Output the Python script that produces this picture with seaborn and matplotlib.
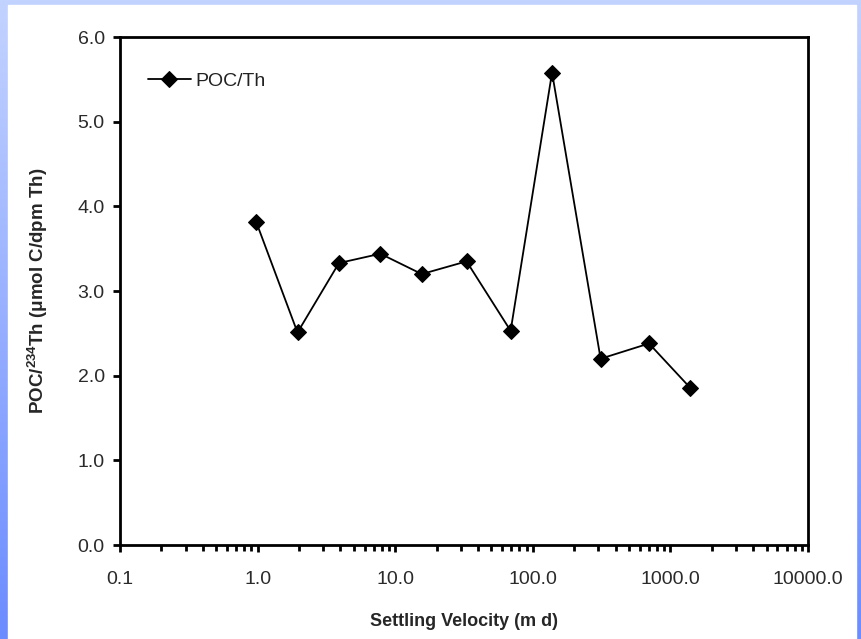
import numpy as np
import pandas as pd
import matplotlib
matplotlib.use("Agg")
import matplotlib.pyplot as plt
import seaborn as sns
from matplotlib.colors import LinearSegmentedColormap
from matplotlib.patches import Rectangle

velocity = [0.98, 1.95, 3.9, 7.8, 15.6, 33.0, 69.0, 138.0, 311.0, 699.0, 1387.0]
poc_th = [3.81, 2.51, 3.33, 3.44, 3.20, 3.35, 2.53, 5.58, 2.20, 2.38, 1.86]
series_name = "POC/Th"
y_ticks = [0.0, 1.0, 2.0, 3.0, 4.0, 5.0, 6.0]
x_ticks = [0.1, 1.0, 10.0, 100.0, 1000.0, 10000.0]

df = pd.DataFrame({"v": velocity, "r": poc_th, "s": series_name})

sns.set_theme(style="ticks")
plt.rcParams["font.family"] = ["Liberation Sans", "DejaVu Sans"]
plt.rcParams["mathtext.fontset"] = "custom"
plt.rcParams["mathtext.rm"] = "Liberation Sans:bold"
plt.rcParams["mathtext.it"] = "Liberation Sans:bold"
plt.rcParams["mathtext.bf"] = "Liberation Sans:bold"

W, H = 861, 639
fig = plt.figure(figsize=(W / 100, H / 100), dpi=100)

# background gradient frame
bg = fig.add_axes([0, 0, 1, 1], zorder=-10)
cmap = LinearSegmentedColormap.from_list("bl", ["#c3d3ff", "#6b8cff"])
grad = np.linspace(0, 1, 256).reshape(-1, 1)
bg.imshow(grad, aspect="auto", cmap=cmap, extent=[0, 1, 0, 1], origin="upper")
bg.add_patch(Rectangle((8 / W, 0), (856 - 8) / W, (H - 5) / H, color="white", transform=bg.transAxes))
bg.set_axis_off()

ax = fig.add_axes([120 / W, (H - 545) / H, (808 - 120) / W, (545 - 37) / H])
ax.set_facecolor("white")
sns.lineplot(data=df, x="v", y="r", hue="s", palette=["black"], marker="D",
             markersize=8.5, linewidth=1.3, markeredgecolor="black", ax=ax)
ax.set_xscale("log")
ax.set_xlim(0.1, 10000)
ax.set_ylim(0, 6)
ax.set_xticks(x_ticks)
ax.set_xticklabels([f"{t:.1f}" for t in x_ticks])
ax.set_yticks(y_ticks)
ax.set_yticklabels([f"{t:.1f}" for t in y_ticks])
ax.xaxis.set_minor_locator(matplotlib.ticker.LogLocator(base=10, subs=np.arange(2, 10)))
ax.xaxis.set_minor_formatter(matplotlib.ticker.NullFormatter())

for sp in ax.spines.values():
    sp.set_visible(True)
    sp.set_color("black")
    sp.set_linewidth(2.0)

ax.tick_params(axis="both", which="major", direction="out", length=5, width=2,
               color="black", labelsize=14, labelcolor="#2a2a2a", pad=6)
ax.tick_params(axis="x", which="minor", direction="out", length=4, width=2, color="black")
ax.tick_params(axis="x", which="major", pad=14)

ax.set_xlabel("Settling Velocity (m d)", fontsize=13, fontweight="bold", labelpad=18)
ax.set_ylabel("POC/$^{234}$Th (μmol C/dpm Th)", fontsize=13.5, fontweight="bold", labelpad=20)

leg = ax.legend(loc="upper left", bbox_to_anchor=(0.015, 0.965), frameon=False,
                fontsize=14, handlelength=2.2, handletextpad=0.25)
for t in leg.get_texts():
    t.set_color("#222222")

fig.savefig("out.png", dpi=100)
